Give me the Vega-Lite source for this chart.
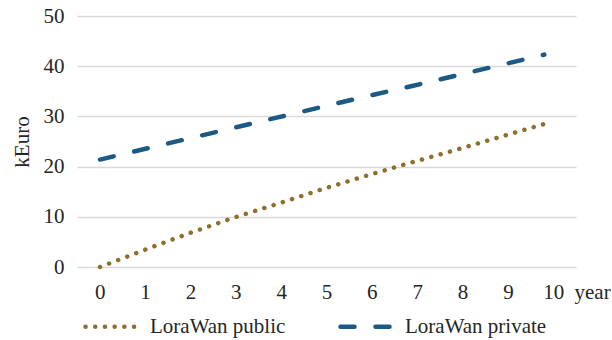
{
  "$schema": "https://vega.github.io/schema/vega-lite/v6.json",
  "width": 499,
  "height": 251,
  "autosize": "none",
  "padding": {"left": 77, "top": 16, "right": 36, "bottom": 73},
  "config": {
    "font": "'Liberation Serif', 'Times New Roman', 'DejaVu Serif', serif",
    "view": {"stroke": null},
    "axis": {"labelFont": "'Liberation Serif', 'Times New Roman', 'DejaVu Serif', serif", "titleFont": "'Liberation Serif', 'Times New Roman', 'DejaVu Serif', serif", "labelFontSize": 21, "titleFontSize": 21, "labelColor": "#262626", "titleColor": "#262626", "titleFontWeight": "normal"},
    "legend": {"labelFont": "'Liberation Serif', 'Times New Roman', 'DejaVu Serif', serif", "labelFontSize": 21, "labelColor": "#262626"}
  },
  "data": {
    "values": [
      {"year": 0, "series": "LoraWan public", "kEuro": 0},
      {"year": 1, "series": "LoraWan public", "kEuro": 3.4},
      {"year": 2, "series": "LoraWan public", "kEuro": 6.7},
      {"year": 3, "series": "LoraWan public", "kEuro": 9.8},
      {"year": 4, "series": "LoraWan public", "kEuro": 12.6},
      {"year": 5, "series": "LoraWan public", "kEuro": 15.5},
      {"year": 6, "series": "LoraWan public", "kEuro": 18.2},
      {"year": 7, "series": "LoraWan public", "kEuro": 20.8},
      {"year": 8, "series": "LoraWan public", "kEuro": 23.3},
      {"year": 9, "series": "LoraWan public", "kEuro": 25.9},
      {"year": 10, "series": "LoraWan public", "kEuro": 28.5},
      {"year": 0, "series": "LoraWan private", "kEuro": 21.4},
      {"year": 1, "series": "LoraWan private", "kEuro": 23.5},
      {"year": 2, "series": "LoraWan private", "kEuro": 25.6},
      {"year": 3, "series": "LoraWan private", "kEuro": 27.7},
      {"year": 4, "series": "LoraWan private", "kEuro": 29.8},
      {"year": 5, "series": "LoraWan private", "kEuro": 31.9},
      {"year": 6, "series": "LoraWan private", "kEuro": 34.0},
      {"year": 7, "series": "LoraWan private", "kEuro": 36.0},
      {"year": 8, "series": "LoraWan private", "kEuro": 38.1},
      {"year": 9, "series": "LoraWan private", "kEuro": 40.2},
      {"year": 10, "series": "LoraWan private", "kEuro": 42.3}
    ]
  },
  "layer": [
    {
      "mark": {"type": "point", "opacity": 0},
      "encoding": {
        "x": {
          "field": "year", "type": "quantitative",
          "scale": {"domain": [-0.5, 10.5], "nice": false, "zero": false},
          "axis": {"values": [0,1,2,3,4,5,6,7,8,9,10], "grid": false, "domain": false, "ticks": false, "labelPadding": 14, "title": "year", "titleX": 497, "titleY": 14, "titleAlign": "left", "titleBaseline": "top", "titleAnchor": null}
        },
        "y": {
          "field": "kEuro", "type": "quantitative",
          "scale": {"domain": [0, 50], "nice": false},
          "axis": {"values": [0,10,20,30,40,50], "grid": true, "gridColor": "#D9D9D9", "gridWidth": 1.5, "domain": false, "ticks": false, "labelPadding": 13, "title": "kEuro", "titlePadding": 11}
        }
      }
    },
    {
      "mark": {"type": "line", "strokeWidth": 4.5, "strokeCap": "round"},
      "encoding": {
        "x": {
          "field": "year", "type": "quantitative",
          "scale": {"domain": [-0.518, 10.713], "nice": false, "zero": false},
          "axis": null
        },
        "y": {"field": "kEuro", "type": "quantitative"},
        "color": {
          "field": "series", "type": "nominal",
          "scale": {"domain": ["LoraWan public", "LoraWan private"], "range": ["#8E6F2C", "#1B5A84"]},
          "legend": {"title": null, "orient": "none", "direction": "horizontal", "legendX": 6, "legendY": 282, "symbolType": "stroke", "symbolSize": 2704, "symbolStrokeWidth": 4.5, "columnPadding": 45, "labelOffset": 10, "encode": {"symbols": {"update": {"strokeCap": {"value": "round"}}}}}
        },
        "strokeDash": {
          "field": "series", "type": "nominal",
          "scale": {"domain": ["LoraWan public", "LoraWan private"], "range": [[0.1, 9.6], [14, 21]]},
          "legend": {"title": null, "orient": "none", "direction": "horizontal", "legendX": 6, "legendY": 282, "symbolType": "stroke", "symbolSize": 2704, "symbolStrokeWidth": 4.5, "columnPadding": 45, "labelOffset": 10, "encode": {"symbols": {"update": {"strokeCap": {"value": "round"}}}}}
        }
      }
    }
  ],
  "resolve": {"scale": {"x": "independent"}, "axis": {"x": "independent"}}
}
